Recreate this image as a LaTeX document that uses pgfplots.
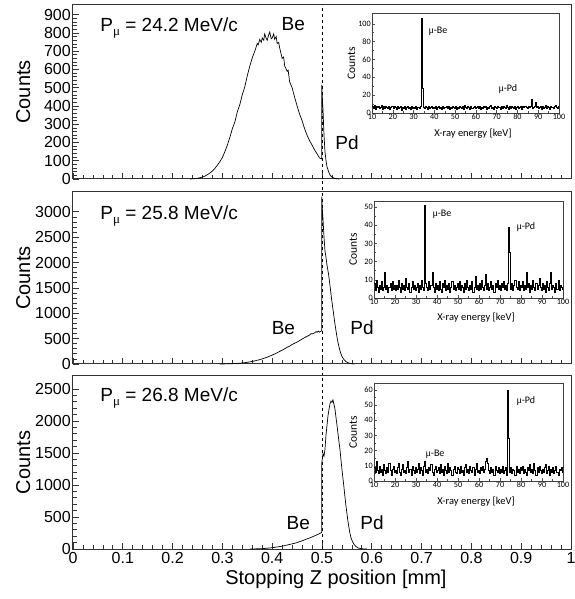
\documentclass[border=0pt]{standalone}
\usepackage{fontspec}
\setmainfont{Liberation Sans}
\newfontfamily\insetfont{Carlito}
\newfontfamily\serif{Liberation Serif}
\usepackage{pgfplots}
\usepackage{pgfplotstable}
\pgfplotsset{compat=1.18}

% inset spectra: 0.5 keV bins from 10 keV
\pgfplotstableread[row sep=\\]{c\\
8\\5\\9\\4\\7\\6\\8\\5\\6\\9\\4\\7\\5\\8\\6\\5\\7\\4\\6\\8\\
5\\7\\6\\4\\8\\5\\6\\7\\3\\6\\5\\8\\4\\6\\7\\5\\6\\4\\7\\5\\
6\\5\\7\\4\\6\\5\\7\\106\\28\\6\\5\\7\\6\\4\\8\\5\\6\\7\\5\\6\\
5\\7\\4\\6\\8\\5\\6\\4\\7\\5\\6\\8\\5\\7\\4\\6\\5\\7\\6\\5\\
7\\4\\6\\5\\8\\6\\5\\7\\4\\9\\6\\5\\7\\6\\4\\8\\5\\6\\7\\5\\
6\\8\\5\\7\\4\\6\\5\\8\\6\\7\\4\\6\\5\\7\\9\\5\\6\\4\\7\\6\\
5\\7\\6\\4\\8\\5\\7\\6\\5\\9\\6\\4\\7\\5\\8\\6\\5\\7\\4\\6\\
7\\5\\6\\8\\4\\7\\6\\8\\6\\5\\8\\6\\7\\15\\5\\6\\8\\12\\6\\7\\
5\\6\\8\\4\\7\\5\\6\\9\\5\\7\\6\\4\\8\\6\\5\\7\\9\\6\\5\\7\\7\\
}\insetA
\pgfplotstableread[row sep=\\]{c\\
8\\4\\10\\6\\3\\7\\5\\9\\4\\6\\14\\5\\7\\3\\6\\8\\4\\9\\5\\7\\
4\\7\\5\\10\\6\\3\\8\\5\\7\\4\\11\\6\\5\\8\\3\\6\\9\\5\\7\\4\\
6\\8\\3\\7\\5\\10\\6\\4\\51\\8\\6\\4\\9\\5\\7\\14\\6\\3\\8\\5\\
7\\4\\9\\5\\3\\8\\6\\10\\4\\7\\5\\8\\3\\6\\9\\5\\7\\4\\6\\8\\
5\\9\\4\\7\\6\\3\\8\\5\\10\\6\\4\\7\\5\\9\\3\\6\\12\\5\\7\\4\\
8\\5\\10\\6\\4\\7\\13\\5\\8\\4\\6\\9\\5\\7\\3\\8\\6\\10\\5\\7\\
4\\8\\6\\9\\5\\7\\4\\8\\39\\25\\5\\8\\4\\7\\10\\6\\5\\9\\4\\7\\
6\\9\\4\\7\\5\\14\\6\\8\\3\\7\\5\\10\\6\\4\\8\\5\\7\\11\\6\\4\\
8\\5\\7\\3\\9\\6\\4\\8\\14\\5\\7\\6\\3\\8\\5\\10\\4\\7\\6\\5\\5\\
}\insetB
\pgfplotstableread[row sep=\\]{c\\
9\\6\\13\\7\\5\\10\\6\\8\\4\\11\\7\\5\\9\\6\\12\\7\\4\\8\\10\\6\\
7\\5\\9\\12\\6\\4\\8\\11\\6\\7\\5\\9\\13\\6\\8\\4\\10\\7\\5\\9\\
6\\8\\12\\5\\9\\7\\4\\10\\13\\6\\8\\5\\9\\7\\11\\6\\4\\8\\10\\6\\
7\\9\\5\\11\\6\\8\\4\\10\\7\\5\\12\\6\\9\\7\\4\\8\\10\\6\\5\\9\\
8\\5\\10\\6\\7\\4\\9\\11\\6\\8\\5\\10\\7\\6\\9\\4\\8\\12\\6\\7\\
5\\9\\7\\10\\6\\8\\13\\15\\12\\7\\5\\9\\6\\8\\4\\10\\7\\6\\9\\5\\
8\\6\\10\\5\\7\\9\\4\\60\\28\\6\\9\\5\\8\\7\\4\\10\\6\\8\\5\\9\\
7\\10\\5\\8\\6\\4\\9\\7\\11\\6\\8\\5\\12\\7\\4\\9\\6\\10\\7\\5\\
8\\6\\9\\11\\5\\7\\10\\4\\8\\6\\9\\5\\7\\10\\6\\4\\8\\7\\9\\6\\6\\
}\insetC

\newcommand{\Pmu}[1]{P\raisebox{-0.35ex}{\fontsize{13}{13}\serif μ} = #1 MeV/c}
\newcommand{\imu}[1]{{\serif μ}-#1}
\tikzset{
  big/.style={font=\fontsize{19}{19}\selectfont},
  ilab/.style={font=\insetfont\fontsize{10}{10}\selectfont},
}
\pgfplotsset{
  mainax/.style={
    scale only axis, width=498pt,
    xmin=0, xmax=1, ymin=0,
    axis line style={draw=black!80, line width=1pt},
    tick align=inside, xtick pos=left, ytick pos=left,
    xtick={0,0.1,0.2,0.3,0.4,0.5,0.6,0.7,0.8,0.9,1},
    minor x tick num=4, minor y tick num=4,
    major tick length=6pt, minor tick length=3.5pt,
    every tick/.style={black!80, line width=0.7pt},
    scaled ticks=false,
    /pgf/number format/1000 sep={},
    /pgf/number format/assume math mode=true,
    tick label style={font=\fontsize{16}{16}\selectfont},
    yticklabel style={inner sep=2pt},
    ylabel=Counts,
    ylabel style={at={(axis description cs:-0.1,0.5)}, anchor=center, font=\fontsize{20}{20}\selectfont},
  },
  insetax/.style={
    scale only axis, xmin=10, xmax=100, ymin=0,
    axis background/.style={fill=white},
    axis line style={draw=black!75, line width=0.7pt},
    tick align=inside, xtick pos=left, ytick pos=left,
    xtick={10,20,...,100}, minor x tick num=1, minor y tick num=1,
    major tick length=3pt, minor tick length=1.5pt,
    every tick/.style={black!70, line width=0.4pt},
    /pgf/number format/assume math mode=true,
    tick label style={font=\insetfont\fontsize{8.2}{8.2}\selectfont, inner sep=1pt},
    xlabel={X-ray energy [keV]}, ylabel=Counts,
    xlabel style={at={(axis description cs:0.54,-0.206)}, anchor=center, font=\insetfont\fontsize{10.5}{10.5}\selectfont},
    ylabel style={at={(axis description cs:-0.11,0.5)}, anchor=center, font=\insetfont\fontsize{11.5}{11.5}\selectfont},
  },
  hist/.style={sharp plot, black, line width=0.7pt, mark=none},
  ihist/.style={const plot mark left, black, line width=0.5pt, mark=none},
}

\begin{document}
\begin{tikzpicture}
\useasboundingbox (0pt,0pt) rectangle (574pt,599pt);

% ---------- panel 1 ----------
\begin{axis}[mainax, at={(73pt,420pt)}, height=174pt, ymax=953,
  ytick={0,100,...,900}, xticklabels={}, clip=false]
\addplot[hist] coordinates {
(0.235,0) (0.240,1) (0.245,2) (0.250,4) (0.255,7) (0.260,11) (0.265,16) (0.270,24) (0.275,33)
(0.280,44) (0.285,58) (0.290,76) (0.295,95) (0.300,118) (0.305,150) (0.310,186)
(0.315,228) (0.320,276) (0.325,312) (0.330,368) (0.335,408) (0.340,462) (0.345,505)
(0.350,566) (0.355,618) (0.360,664) (0.365,700) (0.370,742) (0.372,735) (0.375,765) (0.378,748) (0.380,772)
(0.383,760) (0.385,795) (0.388,770) (0.390,760) (0.393,790) (0.395,805) (0.398,768) (0.400,772) (0.403,795) (0.405,765)
(0.408,780) (0.410,742) (0.413,748) (0.415,718)
(0.420,660) (0.423,668) (0.425,620) (0.430,590) (0.432,596) (0.435,532) (0.440,500) (0.445,448) (0.450,400)
(0.455,355) (0.460,320) (0.465,276) (0.470,240) (0.475,210) (0.480,186) (0.485,160)
(0.490,138) (0.495,115) (0.4995,110) (0.4995,516) (0.501,420) (0.502,380) (0.504,240) (0.506,150)
(0.508,100) (0.510,68) (0.513,42) (0.516,22) (0.520,10) (0.525,4) (0.530,1) (0.535,0)};
\draw[black, dashed, line width=0.6pt] (axis cs:0.5,0) -- (axis cs:0.5,953);
\node[big, anchor=base west] at (axis description cs:0.048,0.845) {\Pmu{24.2}};
\node[big, anchor=base west] at (axis cs:0.412,812) {Be};
\node[big, anchor=base west] at (axis cs:0.52,159) {Pd};
\end{axis}

% ---------- panel 2 ----------
\begin{axis}[mainax, at={(73pt,235pt)}, height=172pt, ymax=3390,
  ytick={0,500,...,3000}, xticklabels={}, clip=false]
\draw[black, dashed, line width=0.6pt] (axis cs:0.5,0) ++(0,-12pt) -- (axis cs:0.5,3390) -- ++(0,13pt);
\addplot[hist] coordinates {
(0.295,0) (0.300,1) (0.310,3) (0.320,6) (0.330,12) (0.340,20) (0.350,32) (0.355,42) (0.360,50)
(0.365,62) (0.370,74) (0.375,85) (0.380,102) (0.385,118) (0.390,135) (0.395,155)
(0.400,175) (0.405,198) (0.410,222) (0.415,248) (0.420,272) (0.425,300) (0.430,330)
(0.435,352) (0.440,385) (0.445,410) (0.450,432) (0.455,462) (0.460,490) (0.465,520)
(0.470,545) (0.475,570) (0.478,600) (0.480,590) (0.485,612) (0.488,640) (0.490,625) (0.493,650) (0.495,628) (0.4995,655)
(0.4995,3300) (0.501,3000) (0.502,2860) (0.504,2500) (0.506,2230) (0.508,2100) (0.510,1950)
(0.513,1780) (0.516,1550) (0.519,1300) (0.522,1080) (0.525,860) (0.528,660)
(0.531,480) (0.534,340) (0.537,230) (0.540,150) (0.544,90) (0.548,50) (0.552,25)
(0.556,12) (0.560,5) (0.565,0)};
\node[big, anchor=base west] at (axis description cs:0.048,0.84) {\Pmu{25.8}};
\node[big, anchor=base west] at (axis cs:0.392,590) {Be};
\node[big, anchor=base west] at (axis cs:0.55,590) {Pd};
\end{axis}

% ---------- panel 3 ----------
\begin{axis}[mainax, at={(73pt,50pt)}, height=173pt, ymax=2703,
  ytick={0,500,...,2500},
  xlabel={Stopping Z position [mm]},
  xlabel style={at={(axis description cs:0.528,-0.173)}, anchor=center, font=\fontsize{20}{20}\selectfont}]
\addplot[hist] coordinates {
(0.355,0) (0.360,1) (0.370,3) (0.380,6) (0.390,12) (0.400,20) (0.410,32) (0.420,45) (0.430,62)
(0.440,80) (0.450,100) (0.455,115) (0.460,128) (0.465,142) (0.470,158) (0.475,172)
(0.480,188) (0.485,205) (0.490,222) (0.495,240) (0.4995,260) (0.4995,1340) (0.502,1490)
(0.504,1450) (0.506,1560) (0.508,1780) (0.510,1930) (0.512,2080) (0.514,2180)
(0.516,2270) (0.518,2310) (0.520,2290) (0.522,2330) (0.524,2260) (0.526,2190)
(0.528,2060) (0.530,1940) (0.532,1810) (0.534,1680) (0.536,1560) (0.538,1400)
(0.540,1250) (0.542,1110) (0.544,970) (0.546,820) (0.548,680) (0.550,560) (0.552,440)
(0.554,340) (0.556,250) (0.558,180) (0.561,120) (0.564,75) (0.568,40) (0.572,18)
(0.577,7) (0.583,2) (0.590,0)};
\draw[black, dashed, line width=0.6pt] (axis cs:0.5,0) -- (axis cs:0.5,2703);
\node[big, anchor=base west] at (axis description cs:0.048,0.85) {\Pmu{26.8}};
\node[big, anchor=base west] at (axis cs:0.422,297) {Be};
\node[big, anchor=base west] at (axis cs:0.57,297) {Pd};
\end{axis}

% ---------- insets ----------
\begin{axis}[insetax, at={(372pt,486pt)}, width=187pt, height=100pt, ymax=112,
  ytick={0,20,...,100}]
\addplot[ihist] table[x expr=10+0.5*\coordindex, y=c] {\insetA};
\node[ilab, anchor=west] at (axis cs:35.5,91) {\imu{Be}};
\node[ilab, anchor=west] at (axis cs:69.2,27) {\imu{Pd}};
\end{axis}

\begin{axis}[insetax, at={(374pt,301pt)}, width=189pt, height=97pt, ymax=53.3,
  ytick={0,10,...,50}]
\addplot[ihist] table[x expr=10+0.5*\coordindex, y=c] {\insetB};
\node[ilab, anchor=west] at (axis cs:36.2,46) {\imu{Be}};
\node[ilab, anchor=west] at (axis cs:76.2,39) {\imu{Pd}};
\end{axis}

\begin{axis}[insetax, at={(374pt,118pt)}, width=189pt, height=98pt, ymax=64.6,
  ytick={0,10,...,60}]
\addplot[ihist] table[x expr=10+0.5*\coordindex, y=c] {\insetC};
\node[ilab, anchor=west] at (axis cs:32.9,17.8) {\imu{Be}};
\node[ilab, anchor=west] at (axis cs:76.2,52.7) {\imu{Pd}};
\end{axis}
\end{tikzpicture}
\end{document}
